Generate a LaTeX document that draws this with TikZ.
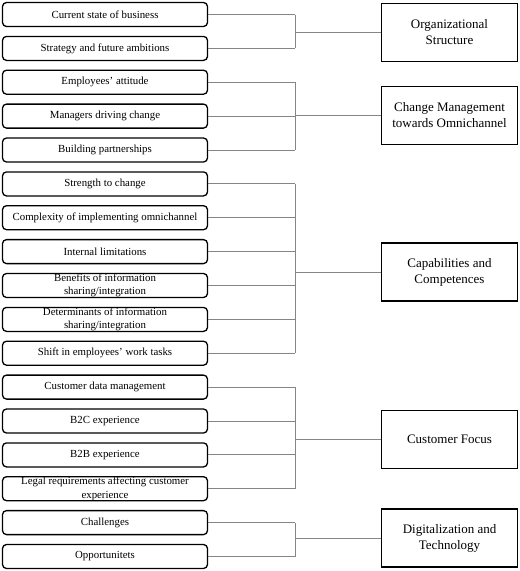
\documentclass[tikz,border=0pt]{standalone}
\usepackage{fontspec}
\setmainfont{Liberation Serif}
\begin{document}
\begin{tikzpicture}[x=1pt,y=-1pt,
  leftbox/.style={draw=black, line width=1.3pt, rounded corners=4pt, minimum width=205pt, minimum height=24pt, inner sep=0pt, align=center, font=\fontsize{10.85}{13.4}\selectfont},
  rightbox/.style={draw=black, line width=1.3pt, minimum width=136pt, minimum height=58pt, inner sep=0pt, align=center, font=\fontsize{13}{16}\selectfont},
  conn/.style={draw=black!48, line width=0.9pt}]
\useasboundingbox (0,0) rectangle (520,571);
\coordinate (bx) at (295,0);
% left boxes
\node[leftbox] (c1)  at (105, 14.5) {Current state of business};
\node[leftbox] (c2)  at (105, 48.4) {Strategy and future ambitions};
\node[leftbox] (c3)  at (105, 82.2) {Employees' attitude};
\node[leftbox] (c4)  at (105,116.1) {Managers driving change};
\node[leftbox] (c5)  at (105,150.0) {Building partnerships};
\node[leftbox] (c6)  at (105,183.9) {Strength to change};
\node[leftbox] (c7)  at (105,217.7) {Complexity of implementing omnichannel};
\node[leftbox] (c8)  at (105,251.6) {Internal limitations};
\node[leftbox] (c9)  at (105,285.5) {Benefits of information\\sharing/integration};
\node[leftbox] (c10) at (105,319.4) {Determinants of information\\sharing/integration};
\node[leftbox] (c11) at (105,353.2) {Shift in employees' work tasks};
\node[leftbox] (c12) at (105,387.1) {Customer data management};
\node[leftbox] (c13) at (105,421.0) {B2C experience};
\node[leftbox] (c14) at (105,454.9) {B2B experience};
\node[leftbox] (c15) at (105,488.7) {Legal requirements affecting customer\\experience};
\node[leftbox] (c16) at (105,522.6) {Challenges};
\node[leftbox] (c17) at (105,556.5) {Opportunitets};
% right boxes
\node[rightbox] (r1) at (449.5, 32.5) {Organizational\\Structure};
\node[rightbox] (r2) at (449.5,115.5) {Change Management\\towards Omnichannel};
\node[rightbox] (r3) at (449.5,272.0) {Capabilities and\\Competences};
\node[rightbox] (r4) at (449.5,439.5) {Customer Focus};
\node[rightbox] (r5) at (449.5,538.0) {Digitalization and\\Technology};
% connectors
\foreach \c in {c1,c2,c3,c4,c5,c6,c7,c8,c9,c10,c11,c12,c13,c14,c15,c16,c17}
  \draw[conn] (\c.east) -- (\c.east -| bx);
\draw[conn] (c1.east -| bx) -- (c2.east -| bx);
\draw[conn] (c3.east -| bx) -- (c5.east -| bx);
\draw[conn] (c6.east -| bx) -- (c11.east -| bx);
\draw[conn] (c12.east -| bx) -- (c15.east -| bx);
\draw[conn] (c16.east -| bx) -- (c17.east -| bx);
\foreach \r in {r1,r2,r3,r4,r5}
  \draw[conn] (\r.west -| bx) -- (\r.west);
\end{tikzpicture}
\end{document}
